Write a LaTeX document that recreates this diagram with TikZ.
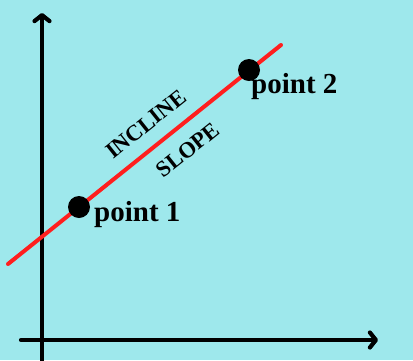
\documentclass[tikz,border=0pt]{standalone}
\usepackage{fontspec}
\setmainfont{Liberation Serif}
\usetikzlibrary{arrows.meta}
\usetikzlibrary{positioning}
\definecolor{skybg}{RGB}{158,232,236}
\definecolor{slopered}{RGB}{255,30,30}

\begin{document}
\begin{tikzpicture}[
    x=1pt, y=-1pt,
    axis/.style={line width=4.2pt, line cap=round, -{Straight Barb[length=6pt, width=15pt, round]}},
    dot/.style={circle, fill=black, minimum size=22pt, inner sep=0pt},
    pointlabel/.style={font=\fontsize{29}{29}\selectfont\bfseries, inner sep=0pt},
    slopetext/.style={font=\fontsize{22.5}{22.5}\selectfont\bfseries, rotate=38.7, inner sep=0pt}
]

% --- Background and bounding box ---
\fill[skybg] (0,0) rectangle (413,360);
\useasboundingbox (0,0) rectangle (413,360);

% --- Axes ---
\coordinate (ybot) at (42,362);
\coordinate (ytop) at (42,13);
\coordinate (xleft) at (21,340);
\coordinate (xright) at (378,340);
\draw[axis] (ybot) -- (ytop);
\draw[axis] (xleft) -- (xright);

% --- Slope line ---
\coordinate (lstart) at (8,264);
\coordinate (lend) at (281,45);
\draw[slopered, line width=4pt, line cap=round] (lstart) -- (lend);

% --- Points ---
\node[dot] (p1) at (79,207) {};
\node[dot] (p2) at (249,70) {};
\node[pointlabel, anchor=base west] (p1lab) at (94,221) {point 1};
\node[pointlabel, anchor=base west] (p2lab) at (251,93) {point 2};

% --- Line labels ---
\node[slopetext] (incline) at (146,124) {INCLINE};
\node[slopetext] (slope) at (188,150) {SLOPE};

\end{tikzpicture}
\end{document}
